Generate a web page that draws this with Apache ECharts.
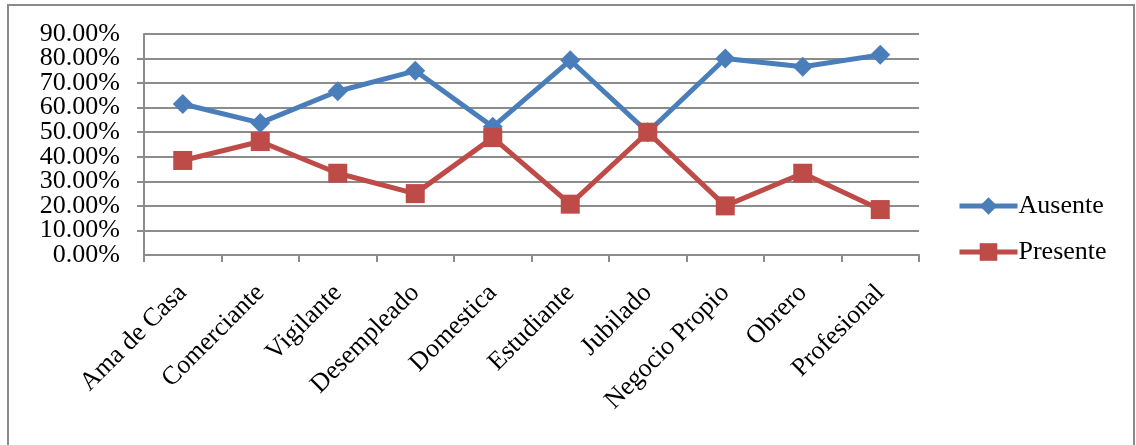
<!DOCTYPE html>
<html>
<head>
<meta charset="utf-8">
<script src="https://cdn.jsdelivr.net/npm/echarts@6/dist/echarts.min.js"></script>
<style>
  html, body { margin: 0; padding: 0; background: #fff; }
  #chart { width: 1136px; height: 445px; }
</style>
</head>
<body>
<div id="chart"></div>
<script>
// Occupation categories along the x axis
var categories = ['Ama de Casa', 'Comerciante', 'Vigilante', 'Desempleado', 'Domestica',
                  'Estudiante', 'Jubilado', 'Negocio Propio', 'Obrero', 'Profesional'];
// Share (%) per occupation
var ausente  = [61.5, 53.8, 66.7, 75.0, 52.2, 79.3, 50.0, 80.0, 76.7, 81.5];
var presente = [38.5, 46.2, 33.3, 25.0, 47.8, 20.7, 50.0, 20.0, 33.3, 18.5];

var FONT = '"Liberation Serif", "Times New Roman", serif';
var GRID_COLOR = '#8c8c8c';

function pct(v) { return v.toFixed(2) + '%'; }
var yLabelStyle = { margin: 24, fontFamily: FONT, fontSize: 26, color: '#000', formatter: pct };

var chart = echarts.init(document.getElementById('chart'), null, { renderer: 'canvas' });

chart.setOption({
  animation: false,
  backgroundColor: '#fff',
  graphic: [{
    type: 'rect',
    shape: { x: 8, y: 5, width: 1126, height: 460 },
    style: { fill: 'none', stroke: '#8a8a8a', lineWidth: 2 },
    silent: true
  }],
  grid: { left: 144, top: 34, right: 217, bottom: 190, containLabel: false },
  legend: {
    orient: 'vertical',
    left: 957,
    top: 193,
    padding: 0,
    itemWidth: 58,
    itemHeight: 22,
    itemGap: 20,
    lineStyle: { width: 5 },
    textStyle: { fontFamily: FONT, fontSize: 26, color: '#000', lineHeight: 22, padding: [0, 0, 0, -4] },
    data: ['Ausente', 'Presente']
  },
  xAxis: {
    type: 'category',
    data: categories,
    boundaryGap: true,
    axisLine: { show: true, lineStyle: { color: GRID_COLOR, width: 2 } },
    axisTick: { show: true, length: 7, alignWithLabel: false, lineStyle: { color: GRID_COLOR, width: 2 } },
    axisLabel: {
      rotate: 45,
      interval: 0,
      margin: 34,
      fontFamily: FONT,
      fontSize: 26,
      color: '#000'
    },
    splitLine: { show: false }
  },
  yAxis: [
    {
      // main percentage axis: grid lines, ticks and the inner labels
      type: 'value',
      min: 0,
      max: 90,
      interval: 10,
      position: 'left',
      offset: 0,
      axisLine: { show: true, lineStyle: { color: GRID_COLOR, width: 2 } },
      axisTick: { show: true, length: 7, lineStyle: { color: GRID_COLOR, width: 2 } },
      axisLabel: Object.assign({ showMinLabel: false, showMaxLabel: false }, yLabelStyle),
      splitLine: { show: true, lineStyle: { color: GRID_COLOR, width: 2 } }
    },
    {
      // end labels (0% and 90%) on the same scale
      type: 'value',
      min: 0,
      max: 90,
      interval: 90,
      position: 'left',
      offset: 0,
      axisLine: { show: false },
      axisTick: { show: false },
      axisLabel: Object.assign({ showMinLabel: true, showMaxLabel: true }, yLabelStyle),
      splitLine: { show: false }
    }
  ],
  series: [
    {
      name: 'Ausente',
      type: 'line',
      yAxisIndex: 0,
      data: ausente,
      symbol: 'diamond',
      symbolSize: 20,
      lineStyle: { color: '#4A7EBB', width: 5 },
      itemStyle: { color: '#4A7EBB' },
      z: 2
    },
    {
      name: 'Presente',
      type: 'line',
      yAxisIndex: 0,
      data: presente,
      symbol: 'rect',
      symbolSize: 19,
      lineStyle: { color: '#BE4B48', width: 5 },
      itemStyle: { color: '#BE4B48' },
      z: 3
    }
  ]
});
</script>
</body>
</html>
